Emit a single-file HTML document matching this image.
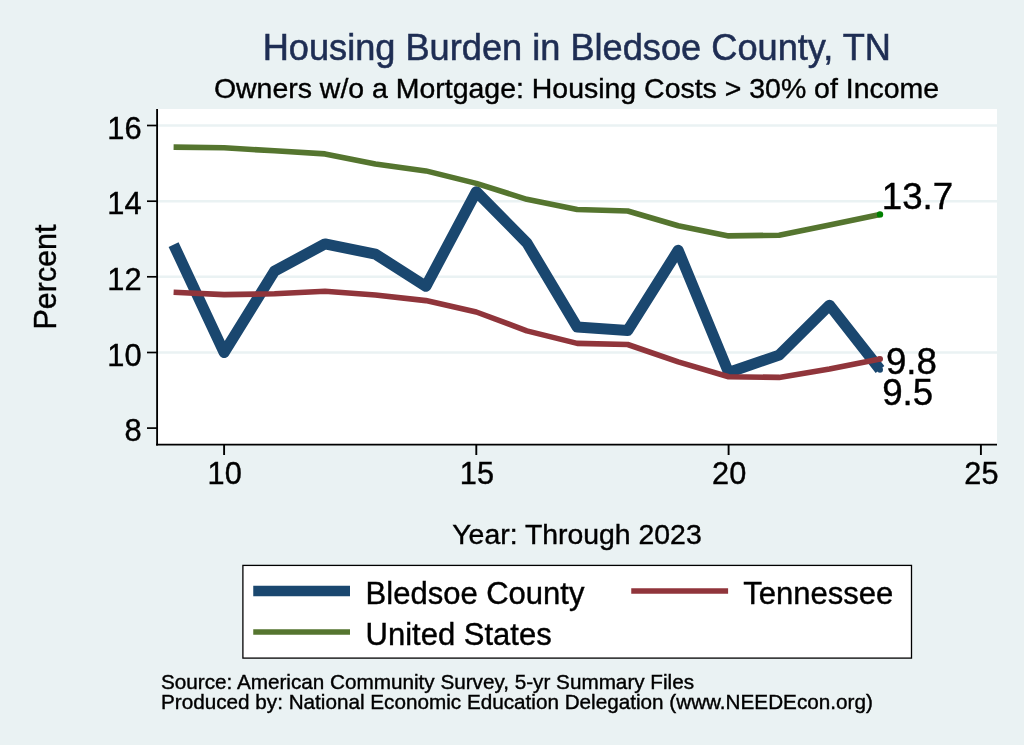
<!DOCTYPE html>
<html lang="en">
<head>
<meta charset="utf-8">
<title>Housing Burden in Bledsoe County, TN</title>
<style>
html, body { margin: 0; padding: 0; background: #eaf2f3; }
body { width: 1024px; height: 745px; overflow: hidden; font-family: "Liberation Sans", sans-serif; }
svg { display: block; }
</style>
</head>
<body>
<svg width="1024" height="745" viewBox="0 0 1024 745" font-family="'Liberation Sans', sans-serif">
<style>text{stroke:#000;stroke-width:0.4px;paint-order:stroke fill} text.t{stroke:#1e2d53;stroke-width:0.55px}</style>
<rect x="0" y="0" width="1024" height="745" fill="#eaf2f3"/>
<rect x="157" y="109" width="840" height="335.5" fill="#ffffff"/>
<line x1="158" x2="997" y1="352.5" y2="352.5" stroke="#eaf2f3" stroke-width="2.4"/>
<line x1="158" x2="997" y1="276.8" y2="276.8" stroke="#eaf2f3" stroke-width="2.4"/>
<line x1="158" x2="997" y1="201.2" y2="201.2" stroke="#eaf2f3" stroke-width="2.4"/>
<line x1="158" x2="997" y1="125.5" y2="125.5" stroke="#eaf2f3" stroke-width="2.4"/>
<polyline points="173.6,244.6 224.1,352.5 274.5,271.1 325.0,243.9 375.4,254.1 425.9,286.3 476.3,191.7 526.8,242.8 577.2,327.1 627.7,330.5 678.2,250.3 728.6,372.5 779.1,355.1 829.5,305.2 880.0,369.5" fill="none" stroke="#1a476f" stroke-width="11" stroke-linejoin="round"/>
<polyline points="173.6,292.3 224.1,294.6 274.5,293.8 325.0,291.2 375.4,295.0 425.9,300.6 476.3,312.0 526.8,330.9 577.2,343.4 627.7,344.5 678.2,361.9 728.6,376.7 779.1,377.4 829.5,369.1 880.0,358.9" fill="none" stroke="#90353b" stroke-width="5.6" stroke-linejoin="round"/>
<polyline points="173.6,147.1 224.1,147.8 274.5,150.8 325.0,153.9 375.4,164.1 425.9,170.9 476.3,183.4 526.8,199.3 577.2,209.5 627.7,211.0 678.2,225.7 728.6,235.9 779.1,235.2 829.5,225.0 880.0,214.4" fill="none" stroke="#55752f" stroke-width="5.6" stroke-linejoin="round"/>
<circle cx="880.0" cy="369.8" r="3.0" fill="#1a476f"/>
<circle cx="880.0" cy="358.9" r="3.0" fill="#90353b"/>
<circle cx="880.0" cy="214.4" r="3.2" fill="#008000"/>
<line x1="157.1" x2="157.1" y1="109" y2="445.4" stroke="#000" stroke-width="1.85"/>
<line x1="156.1" x2="997" y1="444.6" y2="444.6" stroke="#000" stroke-width="1.7"/>
<line x1="147" x2="157" y1="428.1" y2="428.1" stroke="#000" stroke-width="1.7"/>
<text x="141.9" y="441.1" font-size="30.8" letter-spacing="0.2" text-anchor="end">8</text>
<line x1="147" x2="157" y1="352.5" y2="352.5" stroke="#000" stroke-width="1.7"/>
<text x="141.9" y="365.5" font-size="30.8" letter-spacing="0.2" text-anchor="end">10</text>
<line x1="147" x2="157" y1="276.8" y2="276.8" stroke="#000" stroke-width="1.7"/>
<text x="141.9" y="289.8" font-size="30.8" letter-spacing="0.2" text-anchor="end">12</text>
<line x1="147" x2="157" y1="201.2" y2="201.2" stroke="#000" stroke-width="1.7"/>
<text x="141.9" y="214.2" font-size="30.8" letter-spacing="0.2" text-anchor="end">14</text>
<line x1="147" x2="157" y1="125.5" y2="125.5" stroke="#000" stroke-width="1.7"/>
<text x="141.9" y="138.5" font-size="30.8" letter-spacing="0.2" text-anchor="end">16</text>
<line x1="224.1" x2="224.1" y1="444.5" y2="455" stroke="#000" stroke-width="1.9"/>
<text x="224.7" y="484.4" font-size="30.7" letter-spacing="0.2" text-anchor="middle">10</text>
<line x1="476.3" x2="476.3" y1="444.5" y2="455" stroke="#000" stroke-width="1.9"/>
<text x="476.9" y="484.4" font-size="30.7" letter-spacing="0.2" text-anchor="middle">15</text>
<line x1="728.6" x2="728.6" y1="444.5" y2="455" stroke="#000" stroke-width="1.9"/>
<text x="729.2" y="484.4" font-size="30.7" letter-spacing="0.2" text-anchor="middle">20</text>
<line x1="980.9" x2="980.9" y1="444.5" y2="455" stroke="#000" stroke-width="1.9"/>
<text x="981.5" y="484.4" font-size="30.7" letter-spacing="0.2" text-anchor="middle">25</text>
<text x="881.8" y="208.7" font-size="36.7">13.7</text>
<text x="885.9" y="373.8" font-size="36.7">9.8</text>
<text x="882.2" y="404.5" font-size="36.7">9.5</text>
<text x="576.8" y="60" font-size="36.2" text-anchor="middle" fill="#1e2d53" class="t">Housing Burden in Bledsoe County, TN</text>
<text x="576.5" y="98.0" font-size="28.46" text-anchor="middle">Owners w/o a Mortgage: Housing Costs &gt; 30% of Income</text>
<text transform="translate(56.2,277) rotate(-90)" font-size="30.45" text-anchor="middle">Percent</text>
<text x="577" y="543.75" font-size="28.4" text-anchor="middle">Year: Through 2023</text>
<rect x="242.9" y="565.4" width="668.6" height="92.7" fill="#fff" stroke="#000" stroke-width="1.3"/>
<line x1="253.25" x2="350" y1="591" y2="591" stroke="#1a476f" stroke-width="10.5"/>
<text x="365.6" y="603.5" font-size="31.0">Bledsoe County</text>
<line x1="631.25" x2="728.1" y1="591" y2="591" stroke="#90353b" stroke-width="5.6"/>
<text x="743.3" y="603.5" font-size="31.0">Tennessee</text>
<line x1="253.25" x2="350" y1="632" y2="632" stroke="#55752f" stroke-width="5.6"/>
<text x="365.6" y="645" font-size="31.0">United States</text>
<text x="161" y="689.25" font-size="20.7">Source: American Community Survey, 5-yr Summary Files</text>
<text x="161" y="709.1" font-size="20.7">Produced by: National Economic Education Delegation (www.NEEDEcon.org)</text>
</svg>
</body>
</html>
